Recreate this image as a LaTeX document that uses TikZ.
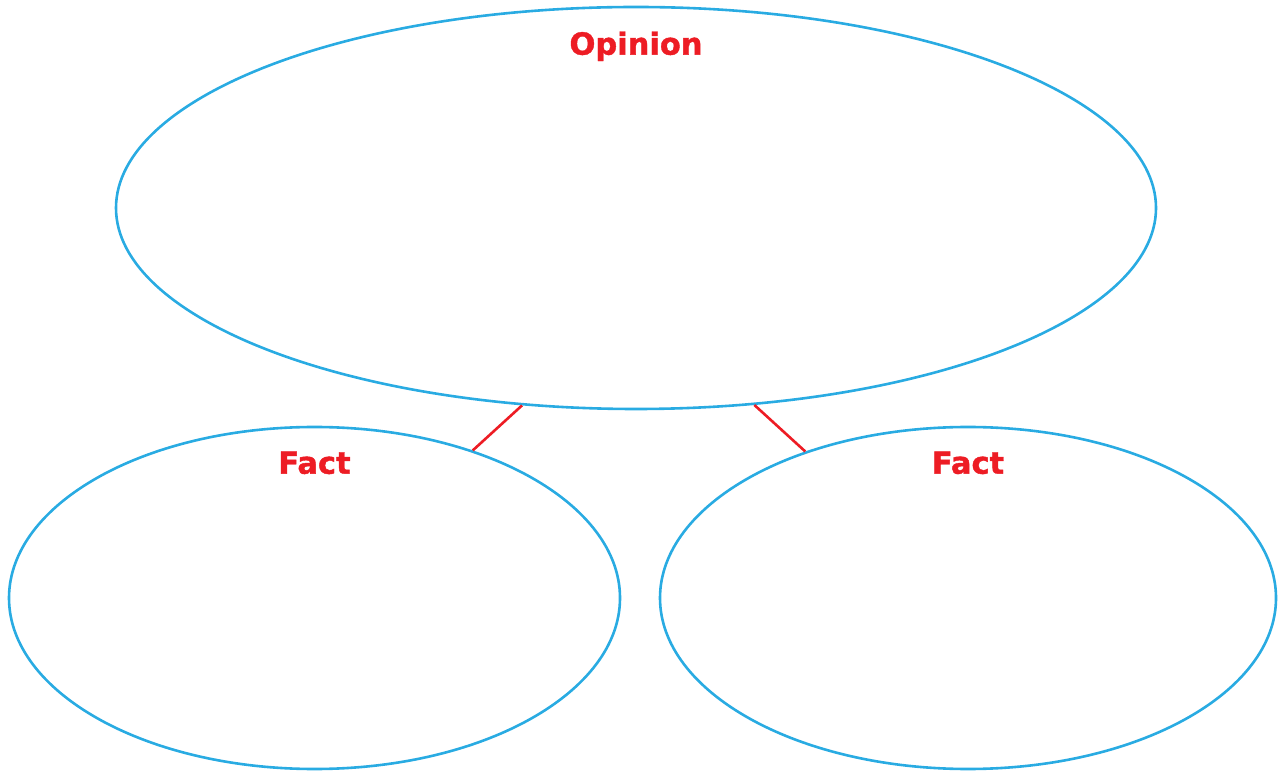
\documentclass[tikz,border=0pt]{standalone}
\usepackage{fontspec}
\setmainfont{DejaVu Sans}
\newfontfamily\heavyfont[FakeBold=1.3]{DejaVu Sans Bold}
\usetikzlibrary{shapes.geometric}

\definecolor{bubbleblue}{HTML}{29ABE2}
\definecolor{titlered}{HTML}{ED1C24}

\begin{document}
\begin{tikzpicture}[
  x=1pt, y=1pt,
  bubble/.style={draw=bubbleblue, ellipse, line width=2.6pt, inner sep=0pt},
  title/.style={font=\fontsize{30.5}{31}\heavyfont, text=titlered, anchor=base, inner sep=0pt},
  link/.style={draw=titlered, line width=2.6pt}
]
\useasboundingbox (0,0) rectangle (1284,771);

% --- Bolhas ---
\node[bubble, minimum width=1040pt, minimum height=402pt] (opinion) at (636,563) {};
\node[bubble, minimum width=611pt, minimum height=342pt] (factL) at (314.5,173) {};
\node[bubble, minimum width=616pt, minimum height=342pt] (factR) at (968,173) {};

% --- Titulos ---
\node[title] (tOpinion) at ([yshift=-49pt]opinion.north) {Opinion};
\node[title] (tFactL) at ([yshift=-48pt]factL.north) {Fact};
\node[title] (tFactR) at ([yshift=-48pt]factR.north) {Fact};

% --- Ligacoes ---
\draw[link] (opinion.240.6) -- (factL.43.1);
\draw[link] (opinion.301.5) -- (factR.138.2);

\end{tikzpicture}
\end{document}
